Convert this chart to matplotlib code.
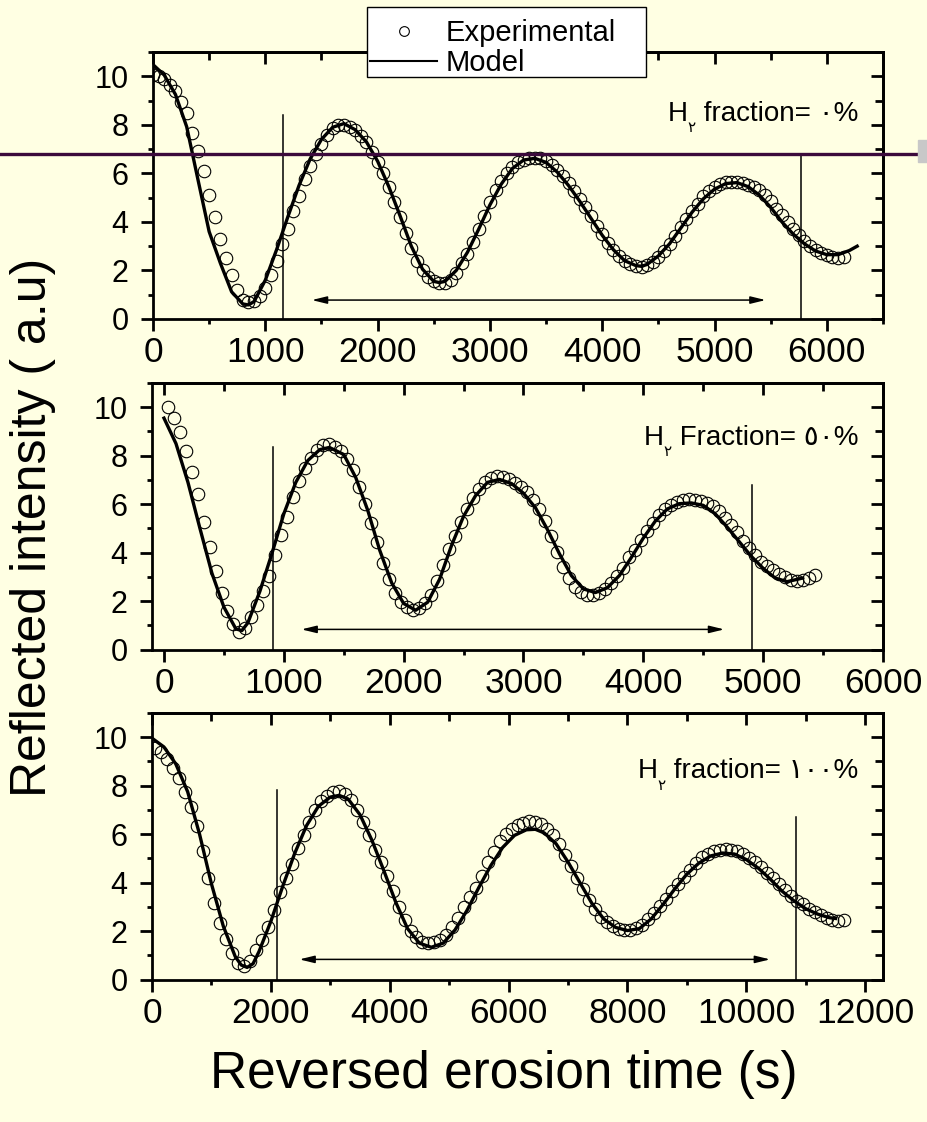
import matplotlib.pyplot as plt
import numpy as np
from matplotlib.lines import Line2D
from matplotlib.patches import Rectangle
from matplotlib.ticker import MultipleLocator

plt.rcParams['font.family'] = ['Liberation Sans', 'DejaVu Sans']

BG = '#ffffe3'

# ---- panel 1 : H2 fraction 0 % ----
exp1_start, exp1_step = 0, 50
exp1_y = [10.05, 10.0, 9.87, 9.65, 9.38, 8.95, 8.47, 7.65, 6.93, 6.1,
          5.1, 4.2, 3.3, 2.52, 1.82, 1.2, 0.8, 0.68, 0.75, 0.93,
          1.26, 1.8, 2.38, 3.1, 3.72, 4.44, 5.07, 5.75, 6.3, 6.8,
          7.2, 7.58, 7.87, 7.98, 8.0, 7.93, 7.77, 7.55, 7.28, 6.88,
          6.45, 6.0, 5.44, 4.8, 4.2, 3.56, 2.94, 2.38, 2.03, 1.72,
          1.57, 1.48, 1.48, 1.62, 1.9, 2.3, 2.67, 3.18, 3.7, 4.25,
          4.82, 5.3, 5.68, 6.02, 6.28, 6.45, 6.56, 6.62, 6.65, 6.62,
          6.52, 6.35, 6.12, 5.9, 5.6, 5.27, 4.95, 4.6, 4.25, 3.85,
          3.5, 3.15, 2.85, 2.6, 2.4, 2.25, 2.17, 2.15, 2.22, 2.35,
          2.55, 2.8, 3.08, 3.42, 3.78, 4.1, 4.45, 4.75, 5.05, 5.28,
          5.45, 5.58, 5.63, 5.65, 5.63, 5.6, 5.53, 5.43, 5.3, 5.1,
          4.85, 4.55, 4.28, 4.0, 3.72, 3.48, 3.2, 3.0, 2.85, 2.73,
          2.62, 2.55, 2.52, 2.55]
mod1_t = [0, 100, 200, 300, 400, 500, 600, 700, 800, 850,
          900, 1000, 1100, 1200, 1300, 1400, 1500, 1600, 1700, 1800,
          1900, 2000, 2100, 2200, 2300, 2400, 2500, 2550, 2600, 2700,
          2800, 2900, 3000, 3100, 3200, 3300, 3400, 3500, 3600, 3700,
          3800, 3900, 4000, 4100, 4200, 4300, 4350, 4400, 4500, 4600,
          4700, 4800, 4900, 5000, 5100, 5200, 5300, 5400, 5500, 5600,
          5700, 5800, 5900, 6000, 6100, 6200, 6270]
mod1_y = [10.48, 10.05, 9.25, 7.92, 5.75, 3.6, 2.3, 1.12, 0.62, 0.58,
          0.72, 1.6, 2.85, 4.2, 5.5, 6.6, 7.4, 7.9, 8.05, 7.8,
          7.3, 6.5, 5.45, 4.25, 3.0, 2.05, 1.55, 1.5, 1.55, 2.0,
          2.75, 3.7, 4.7, 5.55, 6.2, 6.55, 6.62, 6.45, 6.05, 5.5,
          4.85, 4.15, 3.45, 2.85, 2.4, 2.2, 2.17, 2.25, 2.6, 3.1,
          3.75, 4.4, 4.95, 5.35, 5.58, 5.62, 5.45, 5.1, 4.6, 4.0,
          3.5, 3.1, 2.8, 2.65, 2.65, 2.82, 3.0]
vlines1 = [(1156, 8.4), (5766, 6.8)]
arrow1 = (1414, 5455, 0.78)

# ---- panel 2 : H2 fraction 50 % ----
exp2_start, exp2_step = 30, 50
exp2_y = [10.0, 9.57, 8.97, 8.2, 7.33, 6.43, 5.25, 4.24, 3.26, 2.32,
          1.6, 1.05, 0.74, 0.88, 1.34, 1.85, 2.4, 3.05, 3.88, 4.72,
          5.48, 6.3, 6.97, 7.5, 7.92, 8.24, 8.44, 8.48, 8.37, 8.2,
          7.88, 7.4, 6.72, 6.0, 5.24, 4.42, 3.55, 2.9, 2.34, 1.98,
          1.74, 1.62, 1.7, 1.93, 2.25, 2.82, 3.5, 4.14, 4.7, 5.28,
          5.78, 6.25, 6.63, 6.92, 7.09, 7.16, 7.13, 7.02, 6.87, 6.72,
          6.5, 6.18, 5.8, 5.32, 4.68, 4.02, 3.4, 2.95, 2.58, 2.36,
          2.27, 2.25, 2.33, 2.5, 2.74, 3.03, 3.38, 3.8, 4.12, 4.52,
          4.9, 5.23, 5.55, 5.78, 5.95, 6.1, 6.17, 6.2, 6.19, 6.14,
          6.05, 5.92, 5.72, 5.44, 5.13, 4.83, 4.48, 4.17, 3.88, 3.63,
          3.43, 3.27, 3.12, 2.98, 2.87, 2.82, 2.85, 2.95, 3.08]
mod2_t = [0, 100, 200, 300, 400, 500, 600, 650, 700, 800,
          900, 1000, 1100, 1200, 1300, 1380, 1500, 1600, 1700, 1800,
          1900, 2000, 2100, 2200, 2300, 2400, 2500, 2600, 2700, 2800,
          2900, 3000, 3100, 3200, 3300, 3400, 3500, 3600, 3700, 3800,
          3900, 4000, 4100, 4200, 4300, 4400, 4500, 4600, 4700, 4800,
          4900, 5000, 5100, 5200, 5330]
mod2_y = [9.55, 8.5, 6.9, 5.0, 3.15, 1.75, 0.85, 0.78, 1.1, 2.4,
          3.95, 5.6, 6.9, 7.8, 8.25, 8.34, 8.05, 7.1, 5.75, 4.1,
          2.75, 1.9, 1.62, 1.95, 2.9, 4.3, 5.5, 6.35, 6.9, 7.02,
          6.85, 6.45, 5.85, 4.95, 3.95, 3.05, 2.5, 2.35, 2.55, 3.05,
          3.8, 4.6, 5.3, 5.8, 6.02, 6.05, 5.95, 5.6, 5.05, 4.45,
          3.85, 3.35, 2.95, 2.8, 2.95]
vlines2 = [(906, 8.34), (4903, 6.78)]
arrow2 = (1147, 4675, 0.83)

# ---- panel 3 : H2 fraction 100 % ----
exp3_start, exp3_step = 50, 100
exp3_y = [9.55, 9.38, 9.12, 8.72, 8.3, 7.72, 7.1, 6.35, 5.3, 4.18,
          3.15, 2.35, 1.68, 1.08, 0.7, 0.55, 0.78, 1.2, 1.65, 2.17,
          2.85, 3.62, 4.18, 4.78, 5.42, 5.98, 6.52, 6.98, 7.35, 7.58,
          7.75, 7.78, 7.66, 7.42, 6.98, 6.52, 5.95, 5.36, 4.83, 4.27,
          3.65, 3.0, 2.45, 2.02, 1.74, 1.55, 1.5, 1.54, 1.62, 1.82,
          2.15, 2.54, 2.98, 3.4, 3.78, 4.28, 4.85, 5.28, 5.7, 6.0,
          6.22, 6.37, 6.48, 6.54, 6.5, 6.4, 6.22, 5.97, 5.6, 5.12,
          4.67, 4.2, 3.75, 3.28, 2.9, 2.58, 2.37, 2.19, 2.08, 2.05,
          2.05, 2.11, 2.27, 2.48, 2.74, 3.03, 3.32, 3.66, 3.96, 4.25,
          4.54, 4.81, 5.04, 5.2, 5.31, 5.36, 5.37, 5.35, 5.29, 5.17,
          5.0, 4.83, 4.63, 4.4, 4.17, 3.93, 3.68, 3.45, 3.25, 3.1,
          2.93, 2.79, 2.66, 2.55, 2.45, 2.42, 2.46]
mod3_t = [0, 200, 400, 600, 800, 1000, 1200, 1400, 1500, 1600,
          1700, 1800, 2000, 2200, 2400, 2600, 2800, 3000, 3150, 3300,
          3500, 3700, 3900, 4100, 4300, 4500, 4700, 4900, 5100, 5300,
          5500, 5700, 5900, 6100, 6300, 6450, 6600, 6800, 7000, 7200,
          7400, 7600, 7800, 8000, 8200, 8400, 8600, 8800, 9000, 9200,
          9400, 9600, 9800, 10000, 10200, 10400, 10600, 10800, 11000, 11200,
          11400, 11500]
mod3_y = [9.96, 9.6, 8.9, 7.75, 6.0, 3.95, 2.2, 0.95, 0.6, 0.5,
          0.65, 1.15, 2.4, 3.85, 5.2, 6.35, 7.15, 7.53, 7.6, 7.45,
          6.8, 5.75, 4.5, 3.2, 2.1, 1.5, 1.33, 1.5, 2.05, 2.85,
          3.8, 4.7, 5.45, 5.95, 6.18, 6.2, 6.05, 5.6, 4.85, 4.0,
          3.15, 2.5, 2.15, 2.02, 2.1, 2.5, 3.1, 3.75, 4.35, 4.8,
          5.1, 5.22, 5.18, 4.95, 4.6, 4.15, 3.65, 3.25, 2.92, 2.7,
          2.55, 2.52]
vlines3 = [(2104, 7.81), (10840, 6.7)]
arrow3 = (2480, 10400, 0.83)

notes = [' fraction= \u0660%', ' Fraction= \u0665\u0660%', ' fraction= \u0661\u0660\u0660%']


def draw_panel(ax, t_exp, y_exp, t_mod, y_mod, xlim, xmajor, vlines, arrow, note, note_y):
    ax.set_facecolor('none')
    ax.plot(t_exp, y_exp, 'o', ms=9, mfc='none', mec='black', mew=0.8, zorder=2)
    ax.plot(t_mod, y_mod, '-', color='black', lw=2.4, zorder=3)
    for x, top in vlines:
        ax.plot([x, x], [0, top], color='black', lw=1.1)
    ax.annotate('', xy=(arrow[1], arrow[2]), xytext=(arrow[0], arrow[2]),
                arrowprops=dict(arrowstyle='<|-|>,head_length=0.9,head_width=0.22',
                                color='black', lw=1.1, shrinkA=0, shrinkB=0))
    ax.set_xlim(*xlim)
    ax.set_ylim(0, 11)
    ax.xaxis.set_major_locator(MultipleLocator(xmajor))
    ax.xaxis.set_minor_locator(MultipleLocator(xmajor / 2))
    ax.yaxis.set_major_locator(MultipleLocator(2))
    ax.yaxis.set_minor_locator(MultipleLocator(1))
    ax.tick_params(which='both', direction='out', width=2, top=False, right=False)
    ax.tick_params(which='major', length=8.5)
    ax.tick_params(which='minor', length=3.8)
    ax.tick_params(axis='x', labelsize=25.5, pad=4)
    ax.tick_params(axis='y', labelsize=22, pad=9)
    for s in ax.spines.values():
        s.set_linewidth(2)

    # inward ticks on top and right
    sx = ax.secondary_xaxis('top')
    sx.xaxis.set_major_locator(MultipleLocator(xmajor))
    sx.xaxis.set_minor_locator(MultipleLocator(xmajor / 2))
    sx.tick_params(which='both', direction='in', width=2, labeltop=False)
    sx.tick_params(which='major', length=8.5)
    sx.tick_params(which='minor', length=5.5)
    sx.spines['top'].set_linewidth(2)
    sy = ax.secondary_yaxis('right')
    sy.yaxis.set_major_locator(MultipleLocator(2))
    sy.yaxis.set_minor_locator(MultipleLocator(1))
    sy.tick_params(which='both', direction='in', width=2, labelright=False)
    sy.tick_params(which='major', length=8.5)
    sy.tick_params(which='minor', length=5.5)
    sy.spines['right'].set_linewidth(2)

    # "H2 fraction= ..%" with a small subscript 2
    main = ax.text(0.966, note_y, note, transform=ax.transAxes,
                   ha='right', va='baseline', fontsize=20)
    sub = ax.annotate('\u0662', xy=(0, 0), xycoords=main, xytext=(0, -6),
                      textcoords='offset points', ha='right', va='bottom', fontsize=11)
    ax.annotate('H', xy=(0, 0), xycoords=(sub, main), ha='right', va='bottom', fontsize=20)


fig = plt.figure(figsize=(9.28, 11.22), dpi=100, facecolor=BG)

ax1 = fig.add_axes([153 / 928, 1 - 319 / 1122, 730 / 928, 267 / 1122])
ax2 = fig.add_axes([152 / 928, 1 - 649.5 / 1122, 731 / 928, 266.5 / 1122])
ax3 = fig.add_axes([152 / 928, 1 - 979.5 / 1122, 731 / 928, 266.5 / 1122])

t1 = exp1_start + exp1_step * np.arange(len(exp1_y))
t2 = exp2_start + exp2_step * np.arange(len(exp2_y))
t3 = exp3_start + exp3_step * np.arange(len(exp3_y))

draw_panel(ax1, t1, exp1_y, mod1_t, mod1_y, (0, 6500), 1000, vlines1, arrow1, notes[0], 0.742)
draw_panel(ax2, t2, exp2_y, mod2_t, mod2_y, (-100, 6000), 1000, vlines2, arrow2, notes[1], 0.767)
draw_panel(ax3, t3, exp3_y, mod3_t, mod3_y, (0, 12300), 2000, vlines3, arrow3, notes[2], 0.755)

fig.text(0.036, 0.53, 'Reflected intensity ( a.u)', rotation=90, fontsize=36,
         ha='center', va='center')
fig.text(0.543, 0.042, 'Reversed erosion time (s)', fontsize=37,
         ha='center', va='center')

# legend: white box drawn by hand, entries placed inside it
fig.add_artist(Rectangle((367 / 928, 1 - 77 / 1122), 279 / 928, 70 / 1122,
                         transform=fig.transFigure, facecolor='white',
                         edgecolor='black', lw=1.0, zorder=8))
handles = [Line2D([], [], ls='none', marker='o', ms=7, mfc='none', mec='black', mew=0.8),
           Line2D([], [], color='black', lw=1.5)]
leg = fig.legend(handles, ['Experimental', 'Model'], loc='upper left',
                 bbox_to_anchor=(370 / 928, 1 - 19 / 1122), frameon=False,
                 fontsize=21, borderpad=0, labelspacing=0.07, handlelength=2.3,
                 handletextpad=0.31, borderaxespad=0)
leg.set_zorder(9)

# slide artefacts: horizontal rule and small grey box at the right edge
fig.add_artist(Line2D([0, 1], [1 - 154 / 1122] * 2, color='#3c0a3c', lw=2.4,
                      transform=fig.transFigure, zorder=20))
fig.add_artist(Rectangle((918 / 928, 1 - 162 / 1122), 10 / 928, 22 / 1122,
                         transform=fig.transFigure, color='#c8c8c8', zorder=21))

fig.savefig('out.png', dpi=100, facecolor=BG)
